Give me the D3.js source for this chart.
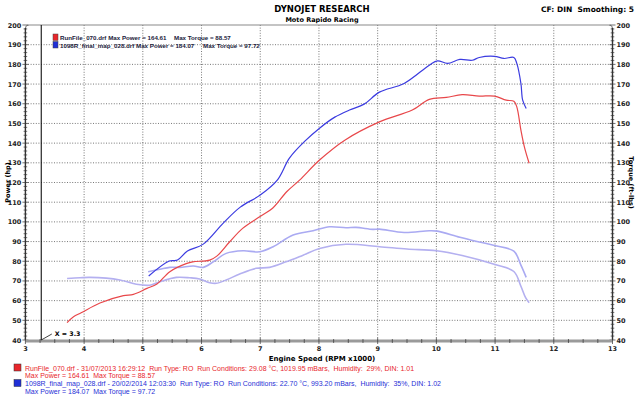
<!DOCTYPE html>
<html>
<head>
<meta charset="utf-8">
<script src="https://cdnjs.cloudflare.com/ajax/libs/d3/7.8.5/d3.min.js"></script>
<style>
  body { margin: 0; background: #fff; }
  svg text { font-family: "DejaVu Sans", Verdana, sans-serif; white-space: pre; }
  svg text.narrow { font-family: "Liberation Sans", Arial, sans-serif; }
</style>
</head>
<body>
<svg id="chart" width="640" height="396"></svg>
<script>
// red run (RunFile_070)
var redPowerRpm = [3.71, 3.82, 3.95, 4.27, 4.67, 4.84, 5.07, 5.24, 5.46, 5.75, 5.85, 6.14, 6.26, 6.48, 6.7, 6.99, 7.21, 7.45, 7.67, 8.01, 8.44, 9.03, 9.59, 9.88, 10.17, 10.44, 10.73, 10.99, 11.19, 11.32, 11.37, 11.44, 11.5, 11.58];
var redPower = [48.8, 51.8, 53.8, 58.8, 62.5, 63.2, 66.2, 68.4, 74.7, 78.9, 79.7, 80.6, 82.6, 89.9, 96.7, 102.6, 106.9, 115.3, 121.2, 131.4, 141.5, 150.8, 156.8, 162.2, 163.2, 164.6, 163.9, 163.9, 161.8, 161.3, 158.4, 146.6, 138, 129.8];
var redTorqueRpm = [3.71, 3.93, 4.1, 4.61, 4.89, 5.12, 5.29, 5.57, 5.8, 5.97, 6.14, 6.25, 6.42, 6.65, 6.93, 7.16, 7.44, 7.73, 8.01, 8.46, 9.03, 9.5, 10, 10.44, 11, 11.32, 11.44, 11.52, 11.58];
var redTorque = [71.2, 71.6, 71.8, 70.5, 68.3, 67.8, 69.6, 71.8, 71.6, 71, 69.1, 68.8, 70.5, 73.5, 76.4, 76.9, 79.7, 83.1, 86.5, 88.6, 87.4, 86.2, 85.3, 82.9, 78.3, 74.8, 67.3, 61.5, 58.9];

// blue run (1098R_final_map_028)
var bluePowerRpm = [5.1, 5.45, 5.59, 5.76, 6.03, 6.37, 6.66, 7.0, 7.29, 7.5, 7.76, 8.01, 8.27, 8.52, 8.77, 9.03, 9.45, 9.88, 10.02, 10.19, 10.4, 10.61, 10.73, 10.99, 11.15, 11.32, 11.37, 11.44, 11.47, 11.53];
var bluePower = [72.5, 80.1, 80.6, 85.2, 88.7, 99.4, 107.5, 113.6, 121.2, 132.5, 141, 147.6, 153.2, 156.8, 159.8, 165.9, 170.3, 179.6, 181.8, 180.5, 182.5, 182.1, 183.5, 184.1, 183, 183.5, 180.5, 170.3, 161.8, 157.6];
var blueTorqueRpm = [5.09, 5.29, 5.46, 5.63, 5.86, 6.03, 6.2, 6.42, 6.71, 6.99, 7.22, 7.56, 7.9, 8.18, 8.46, 8.63, 8.92, 9.03, 9.45, 9.88, 10.02, 10.4, 10.73, 10.99, 11.32, 11.44, 11.53];
var blueTorque = [74.7, 75.9, 76.9, 76.9, 77.6, 76.9, 79.7, 84, 85.3, 84.8, 87.4, 93.3, 95.5, 97.5, 97, 97.2, 96.2, 96.3, 94.6, 95.5, 95.3, 92.2, 89.8, 88, 85.1, 78, 71.8];

var xTicks = [3, 4, 5, 6, 7, 8, 9, 10, 11, 12, 13];
var yTicks = [40, 50, 60, 70, 80, 90, 100, 110, 120, 130, 140, 150, 160, 170, 180, 190, 200];

var legendTop = [
  {name: "RunFile_070.drf Max Power = 164.61", torque: "Max Torque = 88.57", color: "#e8262b", tx: 174},
  {name: "1098R_final_map_028.drf Max Power = 184.07", torque: "Max Torque = 97.72", color: "#1f2fd6", tx: 203}
];
var legendBottom = [
  {line1: "RunFile_070.drf - 31/07/2013 16:29:12  Run Type: RO  Run Conditions: 29.08 \u00b0C, 1019.95 mBars,  Humidity:  29%, DIN: 1.01",
   line2: "Max Power = 164.61  Max Torque = 88.57", color: "#e8262b"},
  {line1: "1098R_final_map_028.drf - 20/02/2014 12:03:30  Run Type: RO  Run Conditions: 22.70 \u00b0C, 993.20 mBars,  Humidity:  35%, DIN: 1.02",
   line2: "Max Power = 184.07  Max Torque = 97.72", color: "#1f2fd6"}
];

var svg = d3.select("#chart");
var x = d3.scaleLinear().domain([3, 13]).range([25.4, 612.5]);
var y = d3.scaleLinear().domain([40, 200]).range([340, 25]);

// titles
svg.append("text").attr("x", 322).attr("y", 12).attr("text-anchor", "middle")
  .attr("font-size", 8.5).attr("font-weight", "bold").text("DYNOJET RESEARCH");
svg.append("text").attr("x", 322).attr("y", 21.5).attr("text-anchor", "middle")
  .attr("font-size", 6.5).attr("font-weight", "bold").text("Moto Rapido Racing");
svg.append("text").attr("x", 634).attr("y", 12).attr("text-anchor", "end")
  .attr("font-size", 7.5).attr("font-weight", "bold").text("CF: DIN  Smoothing: 5");

// grid
var grid = svg.append("g").attr("stroke", "#555").attr("stroke-width", 0.8).attr("stroke-dasharray", "1,1.6");
grid.selectAll(".gy").data(yTicks.filter(function(d) { return d > 40 && d < 200; }))
  .enter().append("line")
  .attr("x1", x(3)).attr("x2", x(13))
  .attr("y1", function(d) { return y(d); }).attr("y2", function(d) { return y(d); });
grid.selectAll(".gx").data(xTicks.filter(function(d) { return d > 3 && d < 13; }))
  .enter().append("line")
  .attr("y1", y(200)).attr("y2", y(40))
  .attr("x1", function(d) { return x(d); }).attr("x2", function(d) { return x(d); });

// top frame with rounded corners
svg.append("path")
  .attr("d", "M" + x(3) + "," + (y(200) + 4) + " Q" + x(3) + "," + y(200) + " " + (x(3) + 4) + "," + y(200) +
             " L" + (x(13) - 4) + "," + y(200) + " Q" + x(13) + "," + y(200) + " " + x(13) + "," + (y(200) + 4))
  .attr("fill", "none").attr("stroke", "#8a8a8a").attr("stroke-width", 1.2);

// vertical axes as rulers
function ruler(xpos, side) {
  var g = svg.append("g");
  g.append("line").attr("x1", xpos).attr("x2", xpos).attr("y1", y(200) + 3).attr("y2", y(40))
    .attr("stroke", "#333").attr("stroke-width", 1.4);
  g.selectAll(".mt").data(d3.range(40, 201, 2)).enter().append("line")
    .attr("x1", function(d) { return xpos - (d % 10 === 0 ? 3 : 1.8); })
    .attr("x2", function(d) { return xpos + (d % 10 === 0 ? 3 : 1.8); })
    .attr("y1", function(d) { return y(d); }).attr("y2", function(d) { return y(d); })
    .attr("stroke", "#333").attr("stroke-width", 0.7);
  g.selectAll(".lb").data(yTicks).enter().append("text")
    .attr("x", side < 0 ? xpos - 4 : xpos + 4)
    .attr("y", function(d) { return y(d) + 2.5; })
    .attr("text-anchor", side < 0 ? "end" : "start")
    .attr("font-size", 6.5).attr("font-weight", "bold").attr("fill", "#222")
    .text(function(d) { return d; });
}
ruler(x(3), -1);
ruler(x(13), 1);

// bottom axis
svg.append("line").attr("x1", x(3)).attr("x2", x(13)).attr("y1", y(40) + 1).attr("y2", y(40) + 1)
  .attr("stroke", "#9a9a9a").attr("stroke-width", 3);
svg.append("g").selectAll("line").data(d3.range(3, 13.01, 0.25)).enter().append("line")
  .attr("x1", function(d) { return x(d); }).attr("x2", function(d) { return x(d); })
  .attr("y1", function(d) { return y(40) - (d % 1 === 0 ? 2 : 1); })
  .attr("y2", function(d) { return y(40) + (d % 1 === 0 ? 4 : 3); })
  .attr("stroke", "#333").attr("stroke-width", 0.7);
svg.append("g").selectAll("text").data(xTicks).enter().append("text")
  .attr("x", function(d) { return x(d); }).attr("y", 351)
  .attr("text-anchor", "middle").attr("font-size", 6.5).attr("font-weight", "bold").attr("fill", "#222")
  .text(function(d) { return d; });

// axis titles
svg.append("text").attr("transform", "translate(10," + y(120) + ") rotate(-90)")
  .attr("text-anchor", "middle").attr("font-size", 6.5).attr("font-weight", "bold").text("Power (hp)");
svg.append("text").attr("transform", "translate(629," + y(120) + ") rotate(90)")
  .attr("text-anchor", "middle").attr("font-size", 6.5).attr("font-weight", "bold").text("Torque (ft-lbs)");
svg.append("text").attr("x", 322).attr("y", 361).attr("text-anchor", "middle")
  .attr("font-size", 7).attr("font-weight", "bold").text("Engine Speed (RPM x1000)");

// cursor line at X = 3.3
svg.append("line").attr("x1", x(3.27)).attr("x2", x(3.27)).attr("y1", y(200)).attr("y2", y(40))
  .attr("stroke", "#111").attr("stroke-width", 1.1);
svg.append("line").attr("x1", x(3.27)).attr("x2", x(3.45)).attr("y1", y(40)).attr("y2", y(40) - 6)
  .attr("stroke", "#111").attr("stroke-width", 0.8);
svg.append("text").attr("x", x(3.5)).attr("y", y(40) - 4).attr("font-size", 6.3).attr("font-weight", "bold")
  .text("X = 3.3");

// curves
var line = d3.line().curve(d3.curveCatmullRom.alpha(0.5))
  .x(function(d) { return x(d[0]); }).y(function(d) { return y(d[1]); });
function series(rpm, vals, color, width) {
  svg.append("path").datum(d3.zip(rpm, vals)).attr("d", line)
    .attr("fill", "none").attr("stroke", color).attr("stroke-width", width)
    .attr("stroke-linejoin", "round");
}
series(redTorqueRpm, redTorque, "#b4b0f0", 1.6);
series(blueTorqueRpm, blueTorque, "#aaaaf2", 1.6);
series(redPowerRpm, redPower, "#e8474a", 1.2);
series(bluePowerRpm, bluePower, "#3b3be0", 1.2);

// top legend
var lt = svg.append("g");
legendTop.forEach(function(d, i) {
  var yy = 40 + i * 7.5;
  lt.append("rect").attr("x", 53).attr("y", yy - 6).attr("width", 5).attr("height", 6.5)
    .attr("fill", d.color).attr("stroke", "#444").attr("stroke-width", 0.5);
  var t = lt.append("text").attr("class", "narrow").attr("x", 60).attr("y", yy)
    .attr("font-size", 6.2).attr("font-weight", "bold").attr("fill", "#1a1a3a").text(d.name);
  var end = 60 + t.node().getComputedTextLength() + 3;
  lt.append("text").attr("class", "narrow").attr("x", Math.max(d.tx, end)).attr("y", yy)
    .attr("font-size", 6.2).attr("font-weight", "bold").attr("fill", "#1a1a3a").text(d.torque);
});

// bottom legend
var lb = svg.append("g");
legendBottom.forEach(function(d, i) {
  var yy = 370.5 + i * 15.5;
  lb.append("rect").attr("x", 14).attr("y", yy - 6.5).attr("width", 7).attr("height", 7)
    .attr("fill", d.color).attr("stroke", "#333").attr("stroke-width", 0.5);
  lb.append("text").attr("class", "narrow").attr("x", 25).attr("y", yy).attr("font-size", 7)
    .attr("fill", d.color).text(d.line1);
  lb.append("text").attr("class", "narrow").attr("x", 25).attr("y", yy + 7.8).attr("font-size", 7)
    .attr("fill", d.color).text(d.line2);
});
</script>
</body>
</html>
